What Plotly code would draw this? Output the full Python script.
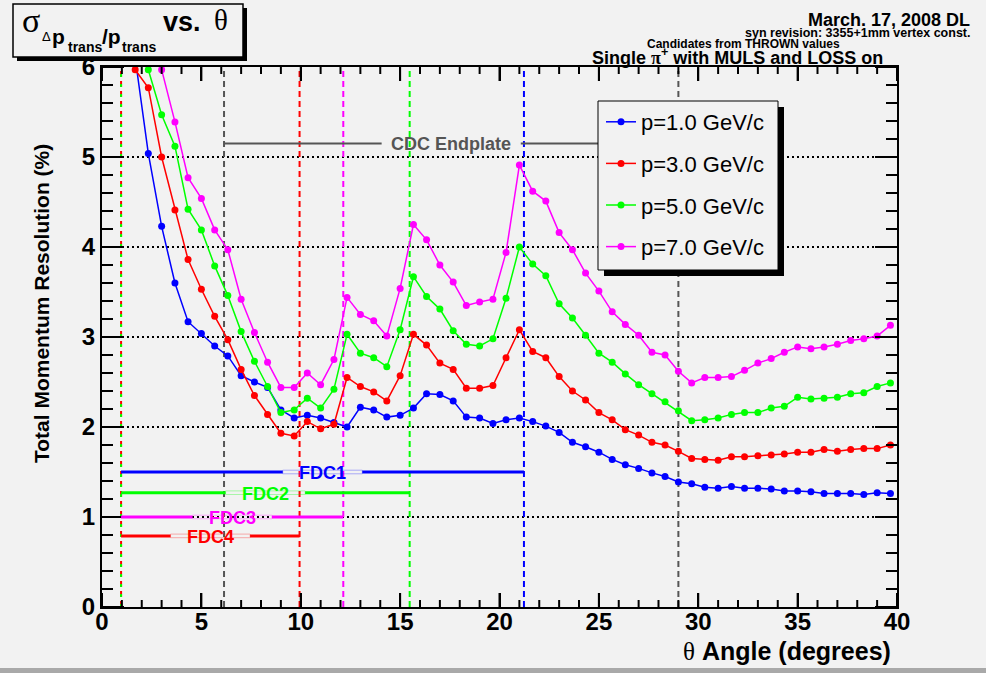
import plotly.graph_objects as go

# ---------------- data ----------------
theta = [1.67, 2.33, 3.00, 3.67, 4.33, 5.00, 5.67, 6.33, 7.00, 7.67,
         8.33, 9.00, 9.67, 10.33, 11.00, 11.67, 12.33, 13.00, 13.67, 14.33,
         15.00, 15.67, 16.33, 17.00, 17.67, 18.33, 19.00, 19.67, 20.33, 21.00,
         21.67, 22.33, 23.00, 23.67, 24.33, 25.00, 25.67, 26.33, 27.00, 27.67,
         28.33, 29.00, 29.67, 30.33, 31.00, 31.67, 32.33, 33.00, 33.67, 34.33,
         35.00, 35.67, 36.33, 37.00, 37.67, 38.33, 39.00, 39.67]

res_p1 = [6.10, 5.04, 4.23, 3.60, 3.17, 3.04, 2.90, 2.79, 2.57, 2.50,
          2.44, 2.19, 2.10, 2.13, 2.10, 2.05, 2.00, 2.22, 2.19, 2.11,
          2.13, 2.21, 2.37, 2.36, 2.29, 2.11, 2.10, 2.04, 2.08, 2.10,
          2.06, 2.01, 1.94, 1.83, 1.78, 1.72, 1.64, 1.58, 1.54, 1.49,
          1.45, 1.39, 1.37, 1.33, 1.32, 1.34, 1.32, 1.32, 1.31, 1.29,
          1.29, 1.28, 1.26, 1.26, 1.26, 1.25, 1.27, 1.26]

res_p3 = [5.97, 5.77, 5.00, 4.41, 3.86, 3.53, 3.23, 2.97, 2.64, 2.35,
          2.14, 1.93, 1.90, 2.06, 1.98, 2.03, 2.55, 2.45, 2.39, 2.29,
          2.57, 3.03, 2.91, 2.71, 2.64, 2.43, 2.43, 2.46, 2.77, 3.08,
          2.84, 2.77, 2.56, 2.40, 2.30, 2.16, 2.08, 1.97, 1.91, 1.83,
          1.80, 1.73, 1.65, 1.64, 1.63, 1.67, 1.67, 1.68, 1.69, 1.70,
          1.72, 1.72, 1.75, 1.73, 1.75, 1.76, 1.76, 1.80]

res_p5 = [6.60, 5.97, 5.47, 5.12, 4.42, 4.19, 3.79, 3.46, 3.06, 2.73,
          2.45, 2.16, 2.19, 2.32, 2.21, 2.42, 3.03, 2.82, 2.77, 2.67,
          3.08, 3.67, 3.45, 3.31, 3.07, 2.92, 2.90, 2.98, 3.43, 4.00,
          3.81, 3.68, 3.37, 3.21, 3.02, 2.82, 2.72, 2.59, 2.47, 2.37,
          2.28, 2.18, 2.07, 2.08, 2.10, 2.14, 2.16, 2.16, 2.21, 2.23,
          2.33, 2.31, 2.32, 2.33, 2.37, 2.38, 2.45, 2.49]

res_p7 = [7.50, 6.70, 5.97, 5.39, 4.77, 4.54, 4.19, 3.97, 3.42, 3.05,
          2.72, 2.44, 2.44, 2.60, 2.47, 2.75, 3.44, 3.25, 3.18, 3.01,
          3.54, 4.25, 4.08, 3.80, 3.61, 3.35, 3.39, 3.42, 3.94, 4.91,
          4.62, 4.51, 4.16, 3.97, 3.71, 3.51, 3.28, 3.14, 3.02, 2.83,
          2.80, 2.62, 2.49, 2.55, 2.55, 2.56, 2.63, 2.71, 2.76, 2.83,
          2.89, 2.87, 2.89, 2.92, 2.96, 2.98, 3.01, 3.13]

series_names = ["p=1.0 GeV/c", "p=3.0 GeV/c", "p=5.0 GeV/c", "p=7.0 GeV/c"]
series_values = [res_p1, res_p3, res_p5, res_p7]
series_colors = ["#0000ff", "#ff0000", "#00ff00", "#ff00ff"]

# axis ticks
x_range = [0, 40]
y_range = [0, 6]
x_major = [0, 5, 10, 15, 20, 25, 30, 35, 40]
x_minor = list(range(0, 41))
y_major = [0, 1, 2, 3, 4, 5, 6]
y_minor = [round(0.2 * i, 1) for i in range(31)]

# detector boundaries (degrees)
vline_theta = [0.96, 0.96, 6.14, 9.94, 12.14, 15.48, 21.23, 29.0]
vline_colors = ["#ff0000", "#00ff00", "#555555", "#ff0000", "#ff00ff",
                "#00ff00", "#0000ff", "#555555"]
vline_dash = ["6px,4px", "3px,7px", "6px,4px", "6px,4px", "6px,4px",
              "6px,4px", "6px,4px", "6px,4px"]

fdc_names = ["FDC1", "FDC2", "FDC3", "FDC4"]
fdc_start = 0.96
fdc_end = [21.23, 15.48, 12.14, 9.94]
fdc_level = [1.50, 1.27, 1.00, 0.79]
fdc_colors = ["#0000ff", "#00ff00", "#ff00ff", "#ff0000"]

cdc_name = "CDC Endplate"
cdc_start, cdc_end, cdc_level = 6.14, 29.0, 5.15

# ---------------- layout helpers ----------------
W, H = 986, 673
L, R, T, B = 102, 897, 67, 607
BG = "#f2f2f2"


def px(xp):
    return (xp - L) / (R - L)


def py(yp):
    return (B - yp) / (B - T)


fig = go.Figure()

for i, (name, vals, col) in enumerate(zip(series_names, series_values, series_colors)):
    fig.add_trace(go.Scatter(
        x=theta, y=vals, mode="lines+markers", name=name,
        line=dict(color=col, width=1.5),
        marker=dict(color=col, size=7, symbol="circle"),
        legendgroup=str(i),
    ))

shapes = []
# vertical dashed boundaries
for xv, col, dsh in zip(vline_theta, vline_colors, vline_dash):
    shapes.append(dict(type="line", xref="x", yref="y", x0=xv, x1=xv, y0=y_range[0], y1=y_range[1],
                       line=dict(color=col, width=2, dash=dsh), layer="between"))

# frame tick marks on all four sides, placed in paper coordinates (unclipped)
tick_line = dict(color="black", width=2)
for xv in x_minor:
    fx = (xv - x_range[0]) / (x_range[1] - x_range[0])
    ln = (14 if xv in x_major else 7) / (B - T)
    shapes.append(dict(type="line", xref="paper", yref="paper", x0=fx, x1=fx, y0=0, y1=ln,
                       line=tick_line, layer="above"))
    shapes.append(dict(type="line", xref="paper", yref="paper", x0=fx, x1=fx, y0=1 - ln, y1=1,
                       line=tick_line, layer="above"))
for yv in y_minor:
    fy = (yv - y_range[0]) / (y_range[1] - y_range[0])
    ln = (22 if abs(yv - round(yv)) < 1e-6 else 11) / (R - L)
    shapes.append(dict(type="line", xref="paper", yref="paper", x0=0, x1=ln, y0=fy, y1=fy,
                       line=tick_line, layer="above"))
    shapes.append(dict(type="line", xref="paper", yref="paper", x0=1 - ln, x1=1, y0=fy, y1=fy,
                       line=tick_line, layer="above"))

annotations = []
# FDC bars
gap = 2.0
for name, xe, yl, col in zip(fdc_names, fdc_end, fdc_level, fdc_colors):
    mid = 0.5 * (fdc_start + xe)
    shapes.append(dict(type="line", xref="x", yref="y", x0=fdc_start, x1=mid - gap, y0=yl, y1=yl,
                       line=dict(color=col, width=3), layer="above"))
    shapes.append(dict(type="line", xref="x", yref="y", x0=mid + gap, x1=xe, y0=yl, y1=yl,
                       line=dict(color=col, width=3), layer="above"))
    shapes.append(dict(type="rect", xref="x", yref="y", x0=mid - gap, x1=mid + gap,
                       y0=yl - 0.02, y1=yl + 0.02, line=dict(color=col, width=1),
                       opacity=0.3, layer="above"))
    annotations.append(dict(x=mid, y=yl, xref="x", yref="y", text="<b>%s</b>" % name,
                            showarrow=False, xanchor="center", yanchor="middle", yshift=-1,
                            font=dict(family="Liberation Sans, Arial", size=18, color=col)))

# CDC endplate
cgap = 3.5
cmid = 0.5 * (cdc_start + cdc_end)
shapes.append(dict(type="line", xref="x", yref="y", x0=cdc_start, x1=cmid - cgap, y0=cdc_level, y1=cdc_level,
                   line=dict(color="#555555", width=2), layer="above"))
shapes.append(dict(type="line", xref="x", yref="y", x0=cmid + cgap, x1=cdc_end, y0=cdc_level, y1=cdc_level,
                   line=dict(color="#555555", width=2), layer="above"))
annotations.append(dict(x=cmid, y=cdc_level, xref="x", yref="y", text="<b>%s</b>" % cdc_name,
                        showarrow=False, xanchor="center", yanchor="middle",
                        font=dict(family="Liberation Sans, Arial", size=18, color="#555555")))

# legend box + shadow
shapes.append(dict(type="rect", xref="paper", yref="paper", x0=px(604), x1=px(784), y0=py(107), y1=py(276),
                   fillcolor="black", line=dict(width=0), layer="above"))
shapes.append(dict(type="rect", xref="paper", yref="paper", x0=px(598), x1=px(778), y0=py(101), y1=py(270),
                   fillcolor=BG, line=dict(color="black", width=1), layer="above"))

# title box + shadow
shapes.append(dict(type="rect", xref="paper", yref="paper", x0=px(17), x1=px(247), y0=py(8), y1=py(61),
                   fillcolor="black", line=dict(width=0), layer="above"))
shapes.append(dict(type="rect", xref="paper", yref="paper", x0=px(13), x1=px(243), y0=py(4), y1=py(57),
                   fillcolor=BG, line=dict(color="black", width=1.5), layer="above"))

# bottom canvas edge
shapes.append(dict(type="rect", xref="paper", yref="paper", x0=px(0), x1=px(W), y0=py(668), y1=py(H),
                   fillcolor="#a9a9a9", line=dict(width=0), layer="above"))


def ann(text, xp, yp, size, family="Liberation Sans, Arial", xanchor="center", color="black", angle=0):
    annotations.append(dict(x=px(xp), y=py(yp), xref="paper", yref="paper", text=text,
                            showarrow=False, xanchor=xanchor, yanchor="middle", textangle=angle,
                            font=dict(family=family, size=size, color=color)))


# title pieces
ann("σ", 31, 20, 34, family="Liberation Serif, Times New Roman")
ann("Δ", 46, 37, 13)
ann("<b>p</b>", 58, 36, 21)
ann("<b>trans</b>", 85, 47, 14)
ann("<b>/p</b>", 111, 36, 21)
ann("<b>trans</b>", 139, 47, 14)
ann("<b>vs.</b>", 182, 22, 27)
ann("θ", 221, 20, 29, family="Liberation Serif, Times New Roman")

# top-right notes
ann("<b>March. 17, 2008 DL</b>", 972, 20, 18, xanchor="right")
ann("<b>syn revision: 3355+1mm vertex const.</b>", 972, 33, 12.5, xanchor="right")
ann("<b>Candidates from THROWN values</b>", 743, 44, 12)
ann("<b>Single <span style='font-family:Liberation Serif'>π</span><sup>+</sup> with MULS and LOSS on</b>",
    737, 57, 18)

# axis titles
ann("<b>Total Momentum Resolution (%)</b>", 41, 304, 21, angle=-90)
ann("<span style='font-family:Liberation Serif'>θ</span><b> Angle (degrees)</b>", 893, 651, 25,
    xanchor="right")

tickfont = dict(family="Liberation Sans, Arial", size=24, color="black", weight="bold")

fig.update_layout(
    width=W, height=H, autosize=False,
    margin=dict(l=L, r=W - R, t=T, b=H - B, pad=0),
    paper_bgcolor=BG, plot_bgcolor=BG,
    showlegend=True,
    legend=dict(x=px(601), y=py(101), xanchor="left", yanchor="top",
                bgcolor="rgba(0,0,0,0)", borderwidth=0,
                font=dict(family="Liberation Sans, Arial", size=22, color="black"),
                tracegroupgap=10, itemwidth=30),
    xaxis=dict(range=x_range, tickmode="array", tickvals=x_major,
               ticks="inside", ticklen=14, tickwidth=2, tickcolor="black",
               showline=True, linewidth=2, linecolor="black", mirror="ticks",
               showgrid=False, zeroline=False, tickfont=tickfont, ticklabelstandoff=-8),
    yaxis=dict(range=y_range, tickmode="array", tickvals=y_major,
               ticks="inside", ticklen=22, tickwidth=2, tickcolor="black",
               showline=True, linewidth=2, linecolor="black", mirror="ticks",
               showgrid=True, gridcolor="black", griddash="2px,3px", gridwidth=1.5,
               zeroline=False, tickfont=tickfont),
    shapes=shapes,
    annotations=annotations,
)

fig.write_html("out.html")
